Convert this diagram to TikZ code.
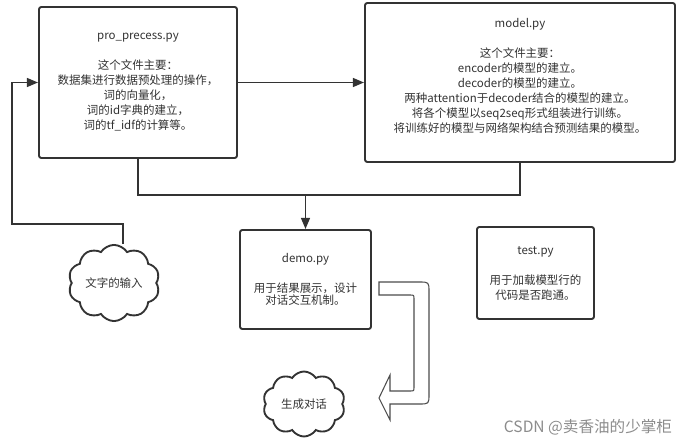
\documentclass[tikz,border=0pt]{standalone}
\usepackage{fontspec}
\setmainfont{Noto Sans CJK SC}
\usetikzlibrary{shapes,arrows.meta}
\definecolor{ink}{RGB}{51,51,51}

\begin{document}
\begin{tikzpicture}[x=0.03cm,y=-0.03cm,
  txt/.style={font=\fontsize{9.8pt}{12.8pt}\selectfont,text=ink},
  filebox/.style={txt,draw=ink,line width=1.6pt,rounded corners=2pt,align=center,fill=white,inner sep=2pt},
  talk/.style={txt,draw=ink,line width=1.6pt,cloud,cloud puffs=10,cloud puff arc=115,aspect=1.3,minimum width=2.46cm,minimum height=1.95cm,inner sep=1pt},
  line/.style={draw=ink,line width=1.6pt},
  flow/.style={line,-{Triangle[length=9.5pt,width=7.5pt]}}]
\useasboundingbox (0,0) rectangle (693,444);
\node[filebox,minimum width=5.94cm,minimum height=4.53cm] (pro) at (138,82.5) {pro\_precess.py\\ \\这个文件主要：\\数据集进行数据预处理的操作，\\词的向量化，\\词的id字典的建立，\\词的tf\_idf的计算等。};
\node[filebox,minimum width=9.3cm,minimum height=4.77cm] (model) at (520,82.5) {model.py\\ \\这个文件主要：\\encoder的模型的建立。\\decoder的模型的建立。\\两种attention于decoder结合的模型的建立。\\将各个模型以seq2seq形式组装进行训练。\\将训练好的模型与网络架构结合预测结果的模型。\\ \mbox{}};
\node[filebox,minimum width=3.93cm,minimum height=2.97cm] (demo) at (305.5,279.5) {demo.py\\ \\用于结果展示，设计\\[-2.5pt]对话交互机制。};
\node[filebox,minimum width=3.51cm,minimum height=2.76cm] (test) at (535.5,273) {test.py\\ \\用于加载模型行的\\代码是否跑通。};
\node[talk] (input) at (114,283) {文字的输入};
\node[talk] (reply) at (304,404) {生成对话};
\coordinate (bend) at (12,224);
\coordinate (merge) at (demo.north |- 0,195);
\draw[flow] (pro.east) -- (model.west);
\draw[flow] ([xshift=0.27cm]input.north) |- (bend) |- (pro.west);
\draw[line] (pro.south) |- (merge) -| (model.south);
\draw[flow] (merge) -- (demo.north);
\draw[draw=black!70,line width=0.9pt,fill=white] (379,282) -- (419,282) .. controls (429,282) .. (429,292) -- (429,394) .. controls (429,404) .. (419,404) -- (390,404) -- (390,420) -- (379,398) -- (390,375) -- (390,391) -- (410,391) .. controls (414,391) .. (414,387) -- (414,299) .. controls (414,295) .. (410,295) -- (379,295) -- cycle;
\node[font=\fontsize{13.3pt}{15pt}\selectfont,text=black!45] (mark) at (588,427) {CSDN @卖香油的少掌柜};
\end{tikzpicture}
\end{document}
